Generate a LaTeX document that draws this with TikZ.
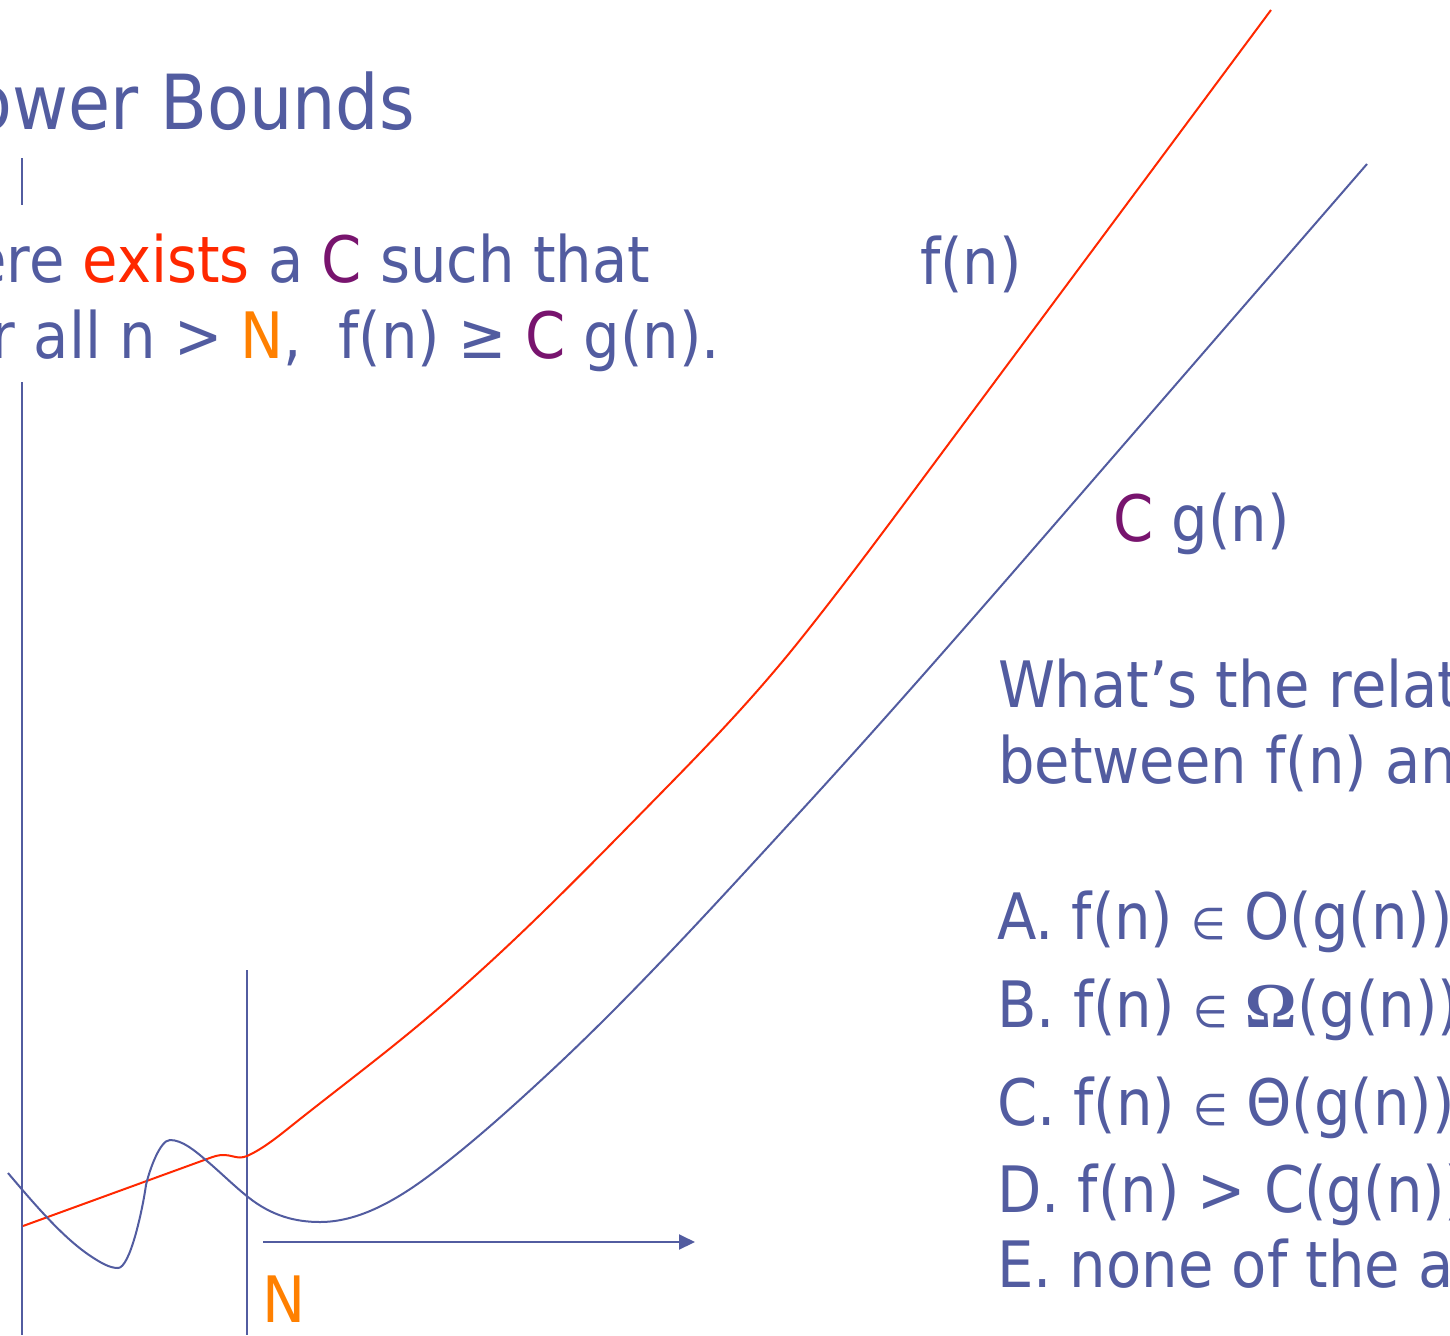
\documentclass[tikz,border=0pt]{standalone}
\usepackage{fontspec}
\setmainfont{DejaVu Sans Condensed}
\newfontfamily\omegafont{Liberation Serif}
\usetikzlibrary{arrows.meta}
\definecolor{slate}{RGB}{82,92,160}
\definecolor{hotred}{RGB}{255,40,0}
\definecolor{plum}{RGB}{120,20,110}
\definecolor{tangerine}{RGB}{255,128,0}
\tikzset{
  txt/.style={inner sep=0pt, outer sep=0pt, text=slate, font=\fontsize{64}{77}\selectfont},
  titletxt/.style={inner sep=0pt, outer sep=0pt, text=slate, font=\fontsize{76}{90}\selectfont},
  axisline/.style={draw=slate, line width=2pt},
  fcurve/.style={draw=hotred, line width=2pt},
  gcurve/.style={draw=slate, line width=2pt},
}
\newcommand{\elem}{{\fontsize{44}{50}\selectfont ∈}}
\begin{document}
\begin{tikzpicture}[x=1pt,y=-1pt]
\path[use as bounding box] (0,0) rectangle (1450,1335);
\clip (0,0) rectangle (1450,1335);
% title
\node[titletxt, anchor=base east] (title) at (415,130) {Lower Bounds};
% definition lines
\node[txt, anchor=base east] (line1) at (650,282) {There {\color{hotred}exists} a {\color{plum}C} such that};
\node[txt, anchor=base east] (line2) at (720,358) {for all n > {\color{tangerine}N},\ \ f(n) ≥ {\color{plum}C} g(n).};
% axes
\coordinate (yaTop) at (22,158);
\coordinate (yaBrk) at (22,205);
\coordinate (yaRes) at (22,382);
\coordinate (yaBot) at (22,1335);
\draw[axisline] (yaTop) -- (yaBrk);
\draw[axisline] (yaRes) -- (yaBot);
\coordinate (nTop) at (247,970);
\coordinate (nBot) at (247,1335);
\draw[axisline] (nTop) -- (nBot);
\coordinate (xaL) at (263,1242);
\coordinate (xaR) at (695,1242);
\draw[axisline, -{Triangle[length=16pt,width=15pt]}] (xaL) -- (xaR);
\node[txt, anchor=base west, text=tangerine] (Nlab) at (262,1322) {N};
% f(n)
\draw[fcurve] (23,1226) -- (207,1159)
  .. controls (215,1156) and (218,1155) .. (224,1155)
  .. controls (230,1155) and (235,1157.5) .. (240,1157.5)
  .. controls (242,1157.5) and (245,1156.9) .. (247,1156)
  .. controls (261.3,1149.6) and (275.7,1138.5) .. (290,1127)
  .. controls (342.7,1084.9) and (395.3,1046.3) .. (448,1000)
  .. controls (465.3,984.7) and (482.7,969.1) .. (500,953)
  .. controls (555.7,901.2) and (611.3,843.8) .. (667,787)
  .. controls (711.3,741.8) and (755.7,695.4) .. (800,640)
  .. controls (842.3,587.1) and (884.7,530) .. (927,473)
  -- (1271,10);
% C g(n)
\draw[gcurve] (8,1173)
  .. controls (36,1206) and (64,1238.8) .. (92,1257)
  .. controls (100.7,1262.6) and (109.3,1268) .. (118,1268)
  .. controls (130,1268) and (142.5,1210) .. (146,1185)
  .. controls (149.3,1170.4) and (160,1140) .. (170,1140)
  .. controls (182.3,1140) and (194.7,1150.5) .. (207,1161)
  .. controls (220.7,1172.6) and (234.3,1186.1) .. (248,1197)
  .. controls (272,1216.2) and (296,1222) .. (320,1222)
  .. controls (356.7,1222) and (393.3,1202.5) .. (430,1175)
  .. controls (470,1145) and (510,1109.2) .. (550,1072)
  .. controls (633.3,994.5) and (716.7,902.8) .. (800,812)
  .. controls (900,703) and (1000,587.4) .. (1100,472)
  -- (1367,164);
% curve labels
\node[txt, anchor=base west] (flab) at (920,284) {f(n)};
\node[txt, anchor=base west] (glab) at (1113,541) {{\color{plum}C} g(n)};
% question
\node[txt, anchor=base west] (q1) at (998,707) {What’s the relationship};
\node[txt, anchor=base west] (q2) at (998,783) {between f(n) and g(n)?};
\node[txt, anchor=base west] (ansA) at (997,939) {A. f(n) \elem{} O(g(n))};
\node[txt, anchor=base west] (ansB) at (997,1027) {B. f(n) \elem{} {\omegafont\bfseries Ω}(g(n))};
\node[txt, anchor=base west] (ansC) at (997,1125) {C. f(n) \elem{} Θ(g(n))};
\node[txt, anchor=base west] (ansD) at (997,1212) {D. f(n) > C(g(n))};
\node[txt, anchor=base west] (ansE) at (997,1287) {E. none of the above};
\end{tikzpicture}
\end{document}
